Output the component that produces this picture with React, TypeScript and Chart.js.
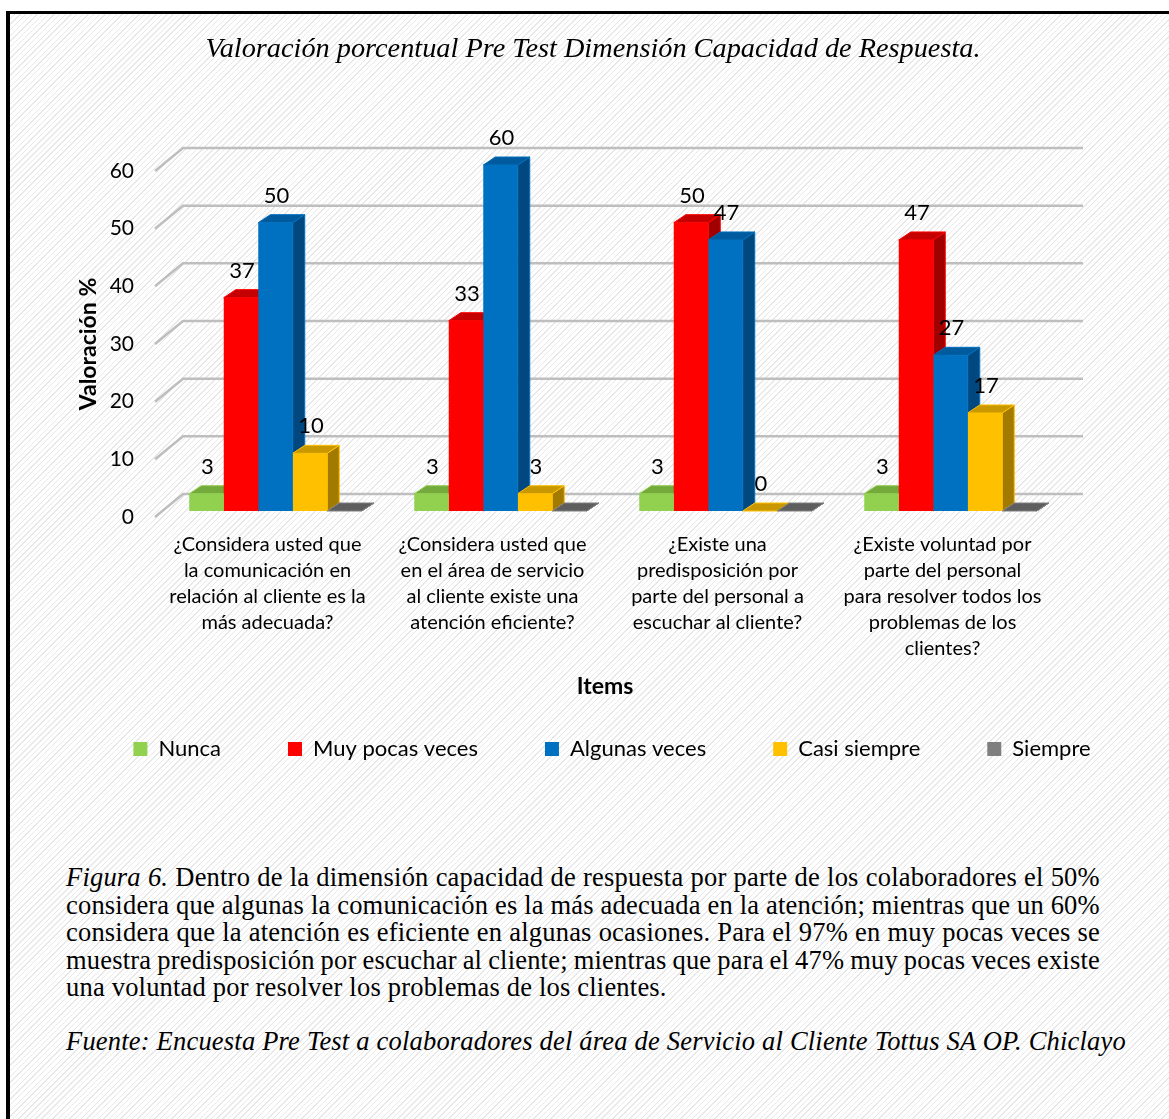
import React, { useEffect, useRef } from "react";
import { Chart, registerables } from "chart.js";

Chart.register(...registerables);

// ---- data ----
const categories: string[][] = [
  ["¿Considera usted que", "la comunicación en", "relación al cliente es la", "más adecuada?"],
  ["¿Considera usted que", "en el área de servicio", "al cliente existe una", "atención eficiente?"],
  ["¿Existe una", "predisposición por", "parte del personal a", "escuchar al cliente?"],
  ["¿Existe voluntad por", "parte del personal", "para resolver todos los", "problemas de los", "clientes?"],
];
const seriesNames = ["Nunca", "Muy pocas veces", "Algunas veces", "Casi siempre", "Siempre"];
const nunca = [3, 3, 3, 3];
const muyPocasVeces = [37, 33, 50, 47];
const algunasVeces = [50, 60, 47, 27];
const casiSiempre = [10, 3, 0, 17];
const siempre = [0, 0, 0, 0];
const showValues = [true, true, true, true, false];
const yTicks = [0, 10, 20, 30, 40, 50, 60];

const chartTitle = "Valoración porcentual Pre Test Dimensión Capacidad de Respuesta.";
const yTitle = "Valoración %";
const xTitle = "Items";

// ---- styling ----
const SANS = "Lato, 'Open Sans', sans-serif";
const SERIF = "'Liberation Serif', 'Times New Roman', serif";

const FACE_COLORS = [
  { front: "#92D050", top: "#74A93C", side: "#5C8A2E", edge: "#92D050" },
  { front: "#FF0000", top: "#C40000", side: "#A00000", edge: "#FF0000" },
  { front: "#0070C0", top: "#005A9E", side: "#00487F", edge: "#0070C0" },
  { front: "#FFC000", top: "#C99700", side: "#A37A00", edge: "#FFC000" },
  { front: "#7F7F7F", top: "#5E5E5E", side: "#4B4B4B", edge: "#7F7F7F" },
];

// 3D geometry (pixels)
const WALL_DX = 28;
const WALL_DY = -23;
const BAR_SHIFT_X = 8;
const BAR_SHIFT_Y = -6;
const BAR_DX = 12;
const BAR_DY = -8;

// layout (page pixels; the canvas starts OX pixels left of the page)
const OX = 40;
const PAGE_W = 1169;
const CANVAS_W = PAGE_W + OX;
const CANVAS_H = 800;
const AREA_LEFT = 155;
const AREA_RIGHT = 1055;
const AREA_TOP = 171;
const AREA_BOTTOM = 517;
const TITLE_SIZE = 28.3;
const TITLE_CY = 50;
const TITLE_CX = 593;
const LEGEND_FONT = 22;
const LEGEND_PAD = 67;
const LEGEND_CY = 749;
const LEGEND_CX = 612;
const ITEMS_CY = 687;
const Y_TITLE_CX = 89;
const AXIS_TITLE_SIZE = 23;

const legendTop = LEGEND_CY - LEGEND_PAD - LEGEND_FONT / 2;
const legendHeight = LEGEND_FONT + LEGEND_PAD + 10;
const padBottom = CANVAS_H - (legendTop + legendHeight);
const xAxisHeight = legendTop - AREA_BOTTOM;
const axisTitleLH = AXIS_TITLE_SIZE * 1.2;
const titleLH = TITLE_SIZE * 1.2;

function poly(ctx: CanvasRenderingContext2D, pts: number[][], fill: string, stroke: string) {
  ctx.beginPath();
  ctx.moveTo(pts[0][0], pts[0][1]);
  for (let i = 1; i < pts.length; i++) ctx.lineTo(pts[i][0], pts[i][1]);
  ctx.closePath();
  ctx.fillStyle = fill;
  ctx.fill();
  ctx.lineWidth = 1;
  ctx.strokeStyle = stroke;
  ctx.stroke();
}

const placeBoxes = {
  id: "placeBoxes",
  afterLayout(chart: any) {
    const shift = (box: any, cx: number) => {
      if (!box) return;
      const d = cx + OX - (box.left + box.right) / 2;
      box.left += d;
      box.right += d;
    };
    shift(chart.titleBlock, TITLE_CX);
    shift(chart.legend, LEGEND_CX);
  },
};

const threeD = {
  id: "threeD",
  beforeDatasetsDraw(chart: any) {
    const { ctx, chartArea, scales } = chart;
    const ys = scales.y;
    // back wall and side wall grid lines
    ctx.save();
    ctx.strokeStyle = "#BEBEBE";
    ctx.lineWidth = 2.5;
    ys.ticks.forEach((t: any) => {
      const py = ys.getPixelForValue(t.value);
      ctx.beginPath();
      ctx.moveTo(chartArea.left, py);
      ctx.lineTo(chartArea.left + WALL_DX, py + WALL_DY);
      ctx.lineTo(chartArea.right + WALL_DX, py + WALL_DY);
      ctx.stroke();
    });
    ctx.restore();

    // side and top faces, series by series from left to right
    ctx.save();
    ctx.translate(BAR_SHIFT_X, BAR_SHIFT_Y);
    chart.data.datasets.forEach((_ds: any, di: number) => {
      const meta = chart.getDatasetMeta(di);
      const c = FACE_COLORS[di];
      meta.data.forEach((el: any) => {
        const { x, y, base, width } = el.getProps(["x", "y", "base", "width"], true);
        const l = x - width / 2;
        const r = x + width / 2;
        const t = Math.min(y, base);
        const b = Math.max(y, base);
        poly(ctx, [[r, t], [r + BAR_DX, t + BAR_DY], [r + BAR_DX, b + BAR_DY], [r, b]], c.side, c.edge);
        poly(ctx, [[l, t], [r, t], [r + BAR_DX, t + BAR_DY], [l + BAR_DX, t + BAR_DY]], c.top, c.edge);
      });
    });
    ctx.restore();

    // front faces are drawn by the bar controller in the same shifted space
    ctx.save();
    ctx.translate(BAR_SHIFT_X, BAR_SHIFT_Y);
  },
  afterDatasetsDraw(chart: any) {
    const { ctx } = chart;
    ctx.restore();
    ctx.save();
    ctx.font = `${LEGEND_FONT}px ${SANS}`;
    ctx.fillStyle = "#000";
    ctx.textAlign = "center";
    ctx.textBaseline = "middle";
    chart.data.datasets.forEach((ds: any, di: number) => {
      if (!showValues[di]) return;
      const meta = chart.getDatasetMeta(di);
      meta.data.forEach((el: any, i: number) => {
        const { x, y } = el.getProps(["x", "y"], true);
        ctx.fillText(String(ds.data[i]), x + BAR_SHIFT_X + 1, y + BAR_SHIFT_Y - 27);
      });
    });
    ctx.restore();
  },
};

const captionLines: { text: string; italicWords?: number }[] = [
  { text: "Figura 6. Dentro de la dimensión capacidad de respuesta por parte de los colaboradores el 50%", italicWords: 2 },
  { text: "considera que algunas la comunicación es la más adecuada en la atención; mientras que un 60%" },
  { text: "considera que la atención es eficiente en algunas ocasiones. Para el 97% en muy pocas veces se" },
  { text: "muestra predisposición por escuchar al cliente; mientras que para el 47% muy pocas veces existe" },
];
const captionLast = "una voluntad por resolver los problemas de los clientes.";
const sourceText = "Fuente: Encuesta Pre Test a colaboradores del área de Servicio al Cliente Tottus SA OP. Chiclayo";

const CAPTION_SIZE = 26.5;
const CAPTION_LH = 27.5;
const CAPTION_TRACKING = "0.2px";

function JustifiedLine({ text, italicWords = 0 }: { text: string; italicWords?: number }) {
  const words = text.split(" ");
  return (
    <div style={{ display: "flex", justifyContent: "space-between", height: CAPTION_LH }}>
      {words.map((w, i) => (
        <span key={i} style={{ whiteSpace: "nowrap", fontStyle: i < italicWords ? "italic" : "normal" }}>
          {w}
        </span>
      ))}
    </div>
  );
}

export default function App() {
  const canvasRef = useRef<HTMLCanvasElement | null>(null);

  useEffect(() => {
    if (!canvasRef.current) return;
    const seriesValues = [nunca, muyPocasVeces, algunasVeces, casiSiempre, siempre];
    const chart = new Chart(canvasRef.current, {
      type: "bar",
      data: {
        labels: categories,
        datasets: seriesNames.map((name, i) => ({
          label: name,
          data: seriesValues[i],
          backgroundColor: FACE_COLORS[i].front,
          borderWidth: 0,
          categoryPercentage: 172.5 / 225,
          barPercentage: 1,
          clip: false as any,
        })),
      },
      options: {
        responsive: false,
        animation: false,
        devicePixelRatio: 1,
        layout: {
          autoPadding: false,
          padding: { left: 0, right: PAGE_W - AREA_RIGHT, top: 0, bottom: padBottom },
        },
        scales: {
          x: {
            grid: { display: false, drawTicks: false },
            border: { display: false },
            ticks: {
              autoSkip: false,
              maxRotation: 0,
              minRotation: 0,
              padding: 15,
              color: "#000",
              font: { family: SANS, size: 20, lineHeight: 1.3 },
            },
            title: {
              display: true,
              text: xTitle,
              color: "#000",
              font: { family: SANS, size: AXIS_TITLE_SIZE, weight: "bold" },
              padding: { top: 0, bottom: legendTop - ITEMS_CY - axisTitleLH / 2 },
            },
            afterFit: (s: any) => {
              s.height = xAxisHeight;
            },
          },
          y: {
            min: 0,
            max: 60,
            grid: { display: false, drawTicks: false },
            border: { display: false },
            afterBuildTicks: (s: any) => {
              s.ticks = yTicks.map((v) => ({ value: v }));
            },
            ticks: {
              padding: 21,
              color: "#000",
              font: { family: SANS, size: 21 },
            },
            title: {
              display: true,
              text: yTitle,
              color: "#000",
              font: { family: SANS, size: AXIS_TITLE_SIZE, weight: "bold" },
              padding: { top: Y_TITLE_CX + OX - axisTitleLH / 2, bottom: 0 },
            },
            afterFit: (s: any) => {
              s.width = AREA_LEFT + OX;
            },
          },
        },
        plugins: {
          title: {
            display: true,
            text: chartTitle,
            color: "#000",
            font: { family: SERIF, size: TITLE_SIZE, style: "italic", weight: "normal" },
            padding: { top: TITLE_CY - titleLH / 2, bottom: AREA_TOP - TITLE_CY - titleLH / 2 },
          },
          legend: {
            position: "bottom",
            labels: {
              boxWidth: 14,
              boxHeight: 14,
              padding: LEGEND_PAD,
              color: "#000",
              font: { family: SANS, size: LEGEND_FONT },
            },
          },
          tooltip: { enabled: false },
        },
      },
      plugins: [placeBoxes, threeD],
    } as any);
    return () => chart.destroy();
  }, []);

  return (
    <div style={{ position: "absolute", left: 0, top: 0, width: PAGE_W, height: 1119, overflow: "hidden" }}>
      <div
        style={{
          position: "absolute",
          left: 6,
          top: 11,
          width: 1163,
          height: 1108,
          borderLeft: "4px solid #000",
          borderTop: "3px solid #000",
          boxSizing: "border-box",
          background:
            "repeating-linear-gradient(135deg, #ffffff 0px, #ffffff 3px, #e8e8e8 3px, #e8e8e8 4px)",
        }}
      />
      <canvas
        ref={canvasRef}
        width={CANVAS_W}
        height={CANVAS_H}
        style={{ position: "absolute", left: -OX, top: 0, width: CANVAS_W, height: CANVAS_H }}
      />
      <div
        style={{
          position: "absolute",
          left: 66,
          top: 864,
          width: 1034,
          fontFamily: SERIF,
          fontSize: CAPTION_SIZE,
          letterSpacing: CAPTION_TRACKING,
          lineHeight: `${CAPTION_LH}px`,
          color: "#000",
        }}
      >
        {captionLines.map((l, i) => (
          <JustifiedLine key={i} text={l.text} italicWords={l.italicWords} />
        ))}
        <div style={{ height: CAPTION_LH, whiteSpace: "nowrap" }}>{captionLast}</div>
      </div>
      <div
        style={{
          position: "absolute",
          left: 66,
          top: 1028,
          fontFamily: SERIF,
          fontSize: CAPTION_SIZE,
          fontStyle: "italic",
          letterSpacing: CAPTION_TRACKING,
          lineHeight: `${CAPTION_LH}px`,
          whiteSpace: "nowrap",
          color: "#000",
        }}
      >
        {sourceText}
      </div>
    </div>
  );
}
